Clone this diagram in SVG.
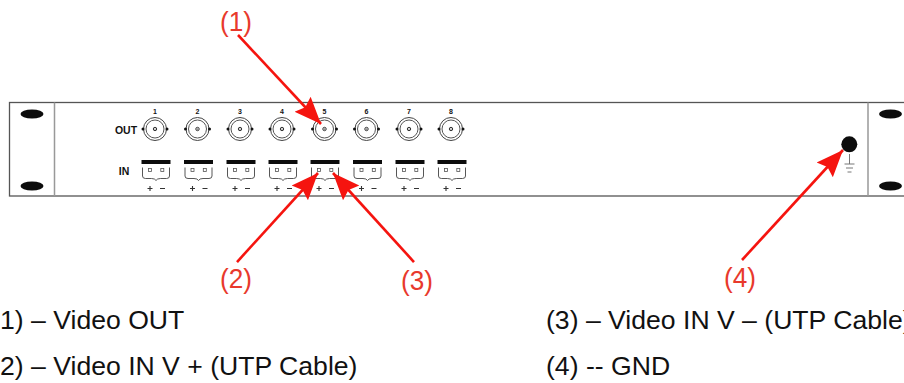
<svg xmlns="http://www.w3.org/2000/svg" width="904" height="383" viewBox="0 0 904 383">
<style>
.t{font-family:"Liberation Sans",Arial,sans-serif;fill:#111}
.lab{font-size:26.600px;fill:#111}
.call{font-size:28px;fill:#e8392c;font-family:"Liberation Sans",Arial,sans-serif}
.num{font-size:7px;font-weight:bold;text-anchor:middle}
.io{font-size:10.500px;font-weight:bold;text-anchor:middle}
.ln{fill:none;stroke:#444;stroke-width:.9}
.arrow{stroke:#f5140f;stroke-width:2.600;fill:none;marker-end:url(#ah)}
</style>
<defs>
<marker id="ah" markerUnits="userSpaceOnUse" markerWidth="30" markerHeight="26" refX="27" refY="12" orient="auto"><path d="M0 1L27 12L0 23L4 12Z" fill="#f5140f"/></marker>
<g id="bnc">
<circle r="11.500" fill="#fff" stroke="#444" stroke-width="1"/><circle r="9" fill="none" stroke="#555" stroke-width="1"/><circle r="1.700" fill="none" stroke="#333" stroke-width="1"/><circle r=".6" fill="#222"/>
<circle cx="-12" r="1.500" fill="#111"/><circle cx="12" r="1.500" fill="#111"/>
</g>
<g id="term">
<rect x="0" y="0" width="29" height="4" fill="#0c0c0c"/>
<path class="ln" d="M1 7.500V16Q1 18.500 4 18.500H10Q13.500 18.500 14.500 20.500Q15.500 18.500 19 18.500H25Q28 18.500 28 16V7.500"/>
<rect x="7" y="8.500" width="3" height="3" fill="none" stroke="#555" stroke-width=".8"/><rect x="19.300" y="8.500" width="3" height="3" fill="none" stroke="#555" stroke-width=".8"/>
<path d="M6 28.500H11M8.500 26V31M18.500 28.500H23.500" stroke="#333" stroke-width="1.100" fill="none"/>
</g>
<ellipse id="hole" rx="11.500" ry="4.500" fill="#0c0c0c"/>
</defs>
<g id="panel">
<rect x="9.500" y="102.500" width="900" height="93.500" fill="#fff" stroke="#555" stroke-width="1.300"/>
<path d="M54.500 102.500V196M868 102.500V196" stroke="#999" stroke-width="1.500"/>
<use href="#hole" x="32" y="114"/><use href="#hole" x="32" y="186"/><use href="#hole" x="890.500" y="114"/><use href="#hole" x="890.500" y="186"/>
<text class="t io" x="126" y="134">OUT</text><text class="t io" x="124" y="175">IN</text>
</g>
<g id="out1"><text class="t num" x="155" y="113.500">1</text><use href="#bnc" x="155" y="129"/></g>
<g id="out2"><text class="t num" x="197.500" y="113.500">2</text><use href="#bnc" x="197.500" y="129"/></g>
<g id="out3"><text class="t num" x="240" y="113.500">3</text><use href="#bnc" x="240" y="129"/></g>
<g id="out4"><text class="t num" x="282" y="113.500">4</text><use href="#bnc" x="282" y="129"/></g>
<g id="out5"><text class="t num" x="324.500" y="113.500">5</text><use href="#bnc" x="324.500" y="129"/></g>
<g id="out6"><text class="t num" x="366.500" y="113.500">6</text><use href="#bnc" x="366.500" y="129"/></g>
<g id="out7"><text class="t num" x="409" y="113.500">7</text><use href="#bnc" x="409" y="129"/></g>
<g id="out8"><text class="t num" x="451" y="113.500">8</text><use href="#bnc" x="451" y="129"/></g>
<g id="in1"><use href="#term" x="141.500" y="160"/></g>
<g id="in2"><use href="#term" x="184" y="160"/></g>
<g id="in3"><use href="#term" x="226.500" y="160"/></g>
<g id="in4"><use href="#term" x="268.500" y="160"/></g>
<g id="in5"><use href="#term" x="310.500" y="160"/></g>
<g id="in6"><use href="#term" x="353" y="160"/></g>
<g id="in7"><use href="#term" x="395.500" y="160"/></g>
<g id="in8"><use href="#term" x="437.500" y="160"/></g>
<g id="gnd">
<circle cx="849.300" cy="144.300" r="8" fill="#0c0c0c"/>
<path d="M849.500 154V164M844.500 164H854.500M846 168H853M847.500 172H851.500" stroke="#777" fill="none"/>
</g>
<g id="connectors">
<path class="arrow" d="M238 35L321 124"/>
<path class="arrow" d="M237 262L318 173"/>
<path class="arrow" d="M414 262L333 173"/>
<path class="arrow" d="M742 260L843 150"/>
</g>
<g id="labels">
<text class="call" x="220" y="31" textLength="32" lengthAdjust="spacingAndGlyphs">(1)</text>
<text class="call" x="220" y="288" textLength="32" lengthAdjust="spacingAndGlyphs">(2)</text>
<text class="call" x="401" y="290" textLength="32" lengthAdjust="spacingAndGlyphs">(3)</text>
<text class="call" x="724" y="287" textLength="32" lengthAdjust="spacingAndGlyphs">(4)</text>
<text class="t lab" x="0" y="329">1) – Video OUT</text>
<text class="t lab" x="0" y="375">2) – Video IN V + (UTP Cable)</text>
<text class="t lab" x="546" y="329">(3) – Video IN V – (UTP Cable)</text>
<text class="t lab" x="546" y="375">(4) -- GND</text>
</g>
</svg>
